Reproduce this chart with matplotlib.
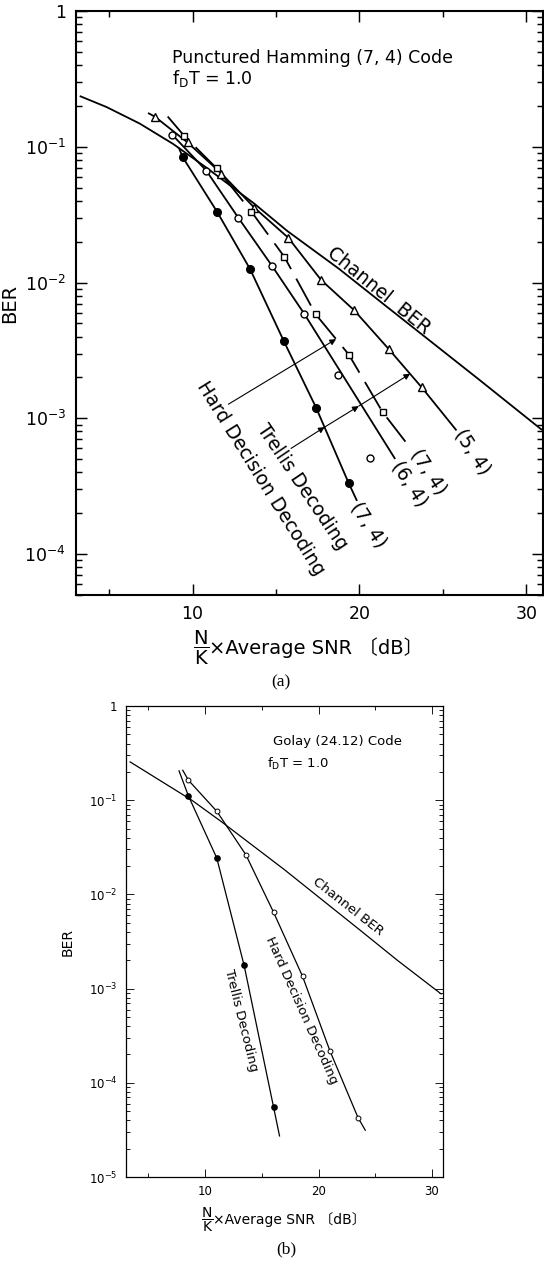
import matplotlib
matplotlib.use('Agg')
import matplotlib.pyplot as plt
from matplotlib.ticker import FixedLocator, LogLocator, NullFormatter

plt.rcParams['font.family'] = ['DejaVu Sans', 'Noto Sans CJK JP']
plt.rcParams['mathtext.fontset'] = 'dejavusans'

#### panel (a): punctured Hamming (7,4)
ch_a_x = [3.29, 4.85, 6.84, 8.83, 10.82, 13.70, 15.67, 18.78, 21.05, 27.14, 30.90]
ch_a_y = [0.235, 0.196, 0.148, 0.105, 0.0703, 0.0381, 0.0240, 0.0126, 0.00757, 0.00194, 0.000828]

# trellis (5,4) - triangles
tri_x = [7.73, 9.70, 11.73, 13.70, 15.73, 17.70, 19.67, 21.76, 23.73]
tri_y = [0.167, 0.1076, 0.0635, 0.0356, 0.0214, 0.01045, 0.00627, 0.00323, 0.00169]
tri_ends_x = [7.38, 25.78]
tri_ends_y = [0.176, 0.000824]

# hard decision (7,4) - squares, dashed
sq_x = [9.48, 11.44, 13.53, 15.50, 17.38, 19.36, 21.39]
sq_y = [0.121, 0.0695, 0.0332, 0.01546, 0.00583, 0.00295, 0.00111]
sq_ends_x = [8.51, 22.78]
sq_ends_y = [0.167, 0.000667]

# trellis (6,4) - open circles (two points sit off the curve)
oc_x = [8.77, 10.82, 12.75, 14.76, 16.69, 18.69, 20.66]
oc_y = [0.123, 0.0668, 0.0299, 0.01327, 0.00589, 0.0021, 0.000514]
oc_line_x = [8.77, 10.82, 12.75, 14.76, 16.69, 22.11]
oc_line_y = [0.123, 0.0668, 0.0299, 0.01327, 0.00589, 0.000508]

# trellis (7,4) - filled circles
fc_x = [9.41, 11.47, 13.45, 15.47, 17.40, 19.36]
fc_y = [0.0838, 0.0332, 0.01254, 0.0037, 0.0012, 0.000332]
fc_ends_x = [9.20, 19.83]
fc_ends_y = [0.097, 0.00025]

#### panel (b): Golay (24,12)
ch_b_x = [3.39, 8.83, 11.47, 16.97, 23.70, 26.97, 30.80]
ch_b_y = [0.255, 0.100, 0.0588, 0.0184, 0.00414, 0.00199, 0.00088]

hd_b_x = [8.53, 11.03, 13.59, 16.03, 18.59, 21.00, 23.48]
hd_b_y = [0.163, 0.0763, 0.0264, 0.00648, 0.00135, 0.000219, 0.0000427]
hd_b_ends_x = [8.03, 24.12]
hd_b_ends_y = [0.208, 0.0000314]

tr_b_x = [8.53, 11.03, 13.44, 16.03]
tr_b_y = [0.111, 0.0243, 0.00176, 0.0000556]
tr_b_ends_x = [7.70, 16.56]
tr_b_ends_y = [0.205, 0.0000273]

# ticks
xticks = [10, 20, 30]
xminor = [5, 15, 25]
yticks_a = [1, 1e-1, 1e-2, 1e-3, 1e-4]
ylabels_a = ['1', r'$\mathdefault{10^{-1}}$', r'$\mathdefault{10^{-2}}$',
             r'$\mathdefault{10^{-3}}$', r'$\mathdefault{10^{-4}}$']
yticks_b = [1, 1e-1, 1e-2, 1e-3, 1e-4, 1e-5]
ylabels_b = ['1', r'$\mathdefault{10^{-1}}$', r'$\mathdefault{10^{-2}}$',
             r'$\mathdefault{10^{-3}}$', r'$\mathdefault{10^{-4}}$', r'$\mathdefault{10^{-5}}$']

# curve labels: text, x, y, rotation
labels_a = [('Channel  BER', 21.17, 8.7e-3, -39),
            ('Hard Decision Decoding', 14.07, 3.6e-4, -58),
            ('Trellis Decoding', 16.58, 3.14e-4, -56),
            ('(5, 4)', 26.79, 5.7e-4, -57),
            ('(7, 4)', 24.16, 4.05e-4, -57),
            ('(6, 4)', 23.02, 3.3e-4, -57),
            ('(7, 4)', 20.57, 1.64e-4, -57)]
labels_b = [('Channel BER', 22.62, 7.45e-3, -38),
            ('Hard Decision Decoding', 18.52, 5.83e-4, -66),
            ('Trellis Decoding', 13.16, 4.57e-4, -76)]

# arrows in (a): hard decision one, trellis one with heads at each crossing
hd_arrow_x = [12.15, 18.60]
hd_arrow_y = [1.27e-3, 3.83e-3]
tr_arrow_x = [15.90, 17.92, 19.96, 23.04]
tr_arrow_y = [6.0e-4, 8.62e-4, 1.23e-3, 2.13e-3]


def setup_axes(ax, yt, yl, ylim, tsize, lw, major_len, minor_len, pad):
    ax.set_yscale('log')
    ax.set_xlim(3, 31)
    ax.set_ylim(*ylim)
    ax.set_xticks(xticks)
    ax.set_xticks(xminor, minor=True)
    ax.set_xticklabels([str(t) for t in xticks])
    ax.yaxis.set_major_locator(FixedLocator(yt))
    ax.set_yticklabels(yl)
    ax.yaxis.set_minor_locator(LogLocator(base=10, subs=range(2, 10), numticks=20))
    ax.yaxis.set_minor_formatter(NullFormatter())
    ax.tick_params(which='both', direction='in', top=True, right=True,
                   labelsize=tsize, width=lw * 0.7, pad=pad)
    ax.tick_params(which='major', length=major_len)
    ax.tick_params(which='minor', length=minor_len)
    for s in ax.spines.values():
        s.set_linewidth(lw)


def frac_xlabel(ax, ypos, xshift, size):
    lab = ax.set_xlabel('×Average SNR 〔dB〕', fontsize=size)
    lab.set_verticalalignment('center')
    ax.xaxis.set_label_coords(0.5 + xshift, ypos)
    ax.annotate(r'$\dfrac{\mathrm{N}}{\mathrm{K}}$', xy=(0, 0.5), xycoords=lab,
                ha='right', va='center', fontsize=size)


fig = plt.figure(figsize=(5.44, 12.61), dpi=100)

#### (a)
ax = fig.add_axes([0.1392, 0.5282, 0.8590, 0.4631])
lw = 1.3
ax.plot(ch_a_x, ch_a_y, 'k-', lw=lw)
ax.plot([tri_ends_x[0]] + tri_x + [tri_ends_x[1]], [tri_ends_y[0]] + tri_y + [tri_ends_y[1]], 'k-', lw=lw)
ax.plot(tri_x, tri_y, '^', ms=6, mfc='white', mec='k', mew=1.0)
ax.plot([sq_ends_x[0]] + sq_x + [sq_ends_x[1]], [sq_ends_y[0]] + sq_y + [sq_ends_y[1]],
        'k', lw=lw, linestyle=(0, (17, 6)))
ax.plot(sq_x, sq_y, 's', ms=5, mfc='white', mec='k', mew=1.0)
ax.plot(oc_line_x, oc_line_y, 'k-', lw=lw)
ax.plot(oc_x, oc_y, 'o', ms=5, mfc='white', mec='k', mew=1.0)
ax.plot([fc_ends_x[0]] + fc_x + [fc_ends_x[1]], [fc_ends_y[0]] + fc_y + [fc_ends_y[1]], 'k-', lw=lw)
ax.plot(fc_x, fc_y, 'o', ms=5.5, mfc='k', mec='k')

setup_axes(ax, yticks_a, ylabels_a, (5.0e-5, 1), 12.5, 1.5, 8, 4.5, 7)
ax.set_ylabel('BER', fontsize=14)
ax.yaxis.set_label_coords(-0.121, 0.5)
frac_xlabel(ax, -0.091, 0.015, 14)

ax.text(0.207, 0.919, 'Punctured Hamming (7, 4) Code', transform=ax.transAxes,
        fontsize=12.5, ha='left', va='center')
ax.text(0.207, 0.884, r'f$_{\mathrm{D}}$T = 1.0', transform=ax.transAxes,
        fontsize=12.5, ha='left', va='center')
for t, x, y, r in labels_a:
    ax.text(x, y, t, rotation=r, rotation_mode='anchor', ha='center', va='center', fontsize=13.5)

arr = dict(arrowstyle='-|>', color='k', lw=0.8, mutation_scale=9, shrinkA=0, shrinkB=0)
ax.annotate('', xy=(hd_arrow_x[1], hd_arrow_y[1]), xytext=(hd_arrow_x[0], hd_arrow_y[0]), arrowprops=arr)
for i in range(len(tr_arrow_x) - 1):
    ax.annotate('', xy=(tr_arrow_x[i + 1], tr_arrow_y[i + 1]),
                xytext=(tr_arrow_x[i], tr_arrow_y[i]), arrowprops=arr)

fig.text(281 / 544, 1 - 682 / 1261, '(a)', family='Liberation Serif', fontsize=12.5,
         ha='center', va='center')

#### (b)
bx = fig.add_axes([0.2311, 0.0666, 0.5838, 0.3735])
lwb = 0.9
bx.plot(ch_b_x, ch_b_y, 'k-', lw=lwb)
bx.plot([hd_b_ends_x[0]] + hd_b_x + [hd_b_ends_x[1]], [hd_b_ends_y[0]] + hd_b_y + [hd_b_ends_y[1]],
        'k-', lw=lwb)
bx.plot(hd_b_x, hd_b_y, 'o', ms=3.5, mfc='white', mec='k', mew=0.7)
bx.plot([tr_b_ends_x[0]] + tr_b_x + [tr_b_ends_x[1]], [tr_b_ends_y[0]] + tr_b_y + [tr_b_ends_y[1]],
        'k-', lw=lwb)
bx.plot(tr_b_x, tr_b_y, 'o', ms=3.8, mfc='k', mec='k')

setup_axes(bx, yticks_b, ylabels_b, (1e-5, 1), 8.5, 0.9, 5.5, 3, 6)
bx.set_ylabel('BER', fontsize=10)
bx.yaxis.set_label_coords(-0.160, 0.5)
frac_xlabel(bx, -0.091, 0.015, 10)

bx.text(0.465, 0.924, 'Golay (24.12) Code', transform=bx.transAxes,
        fontsize=9.5, ha='left', va='center')
bx.text(0.444, 0.876, r'f$_{\mathrm{D}}$T = 1.0', transform=bx.transAxes,
        fontsize=9.5, ha='left', va='center')
for t, x, y, r in labels_b:
    bx.text(x, y, t, rotation=r, rotation_mode='anchor', ha='center', va='center', fontsize=9.5)

fig.text(286 / 544, 1 - 1249 / 1261, '(b)', family='Liberation Serif', fontsize=12.5,
         ha='center', va='center')

fig.savefig('out.png', dpi=100)
